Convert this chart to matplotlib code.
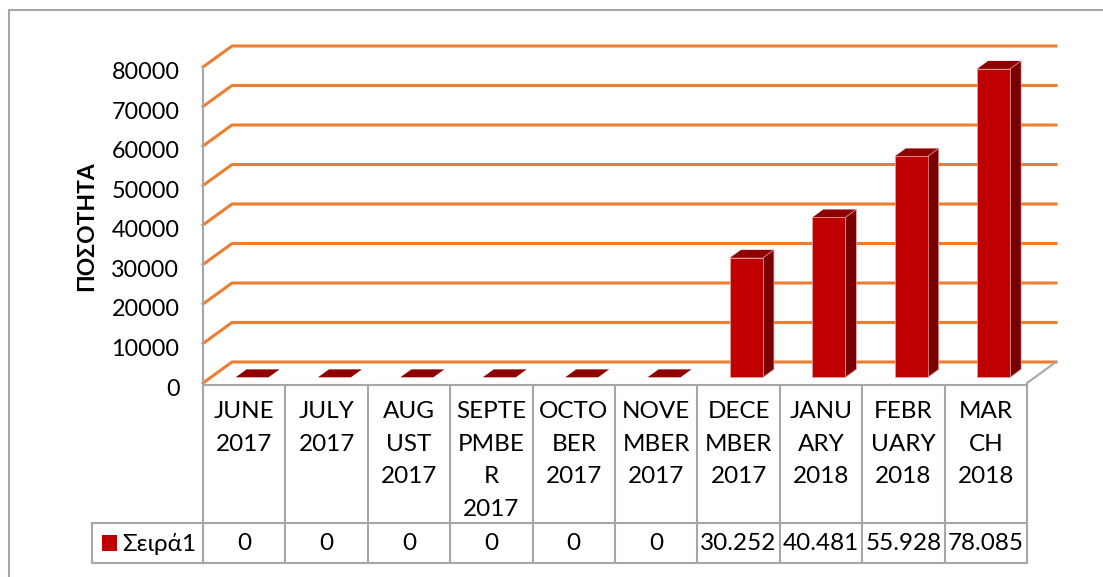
import numpy as np
import matplotlib.pyplot as plt
from matplotlib.patches import Polygon, Rectangle
from matplotlib.lines import Line2D
from matplotlib.transforms import blended_transform_factory, ScaledTranslation

plt.rcParams['font.family'] = ['Lato', 'DejaVu Sans']

months = ['JUNE\n2017', 'JULY\n2017', 'AUG\nUST\n2017', 'SEPTE\nPMBE\nR\n2017',
          'OCTO\nBER\n2017', 'NOVE\nMBER\n2017', 'DECE\nMBER\n2017',
          'JANU\nARY\n2018', 'FEBR\nUARY\n2018', 'MAR\nCH\n2018']
values = [0, 0, 0, 0, 0, 0, 30252, 40481, 55928, 78085]
yticks = np.arange(0, 80001, 10000)
series_name = 'Σειρά1'
ylabel = 'ΠΟΣΟΤΗΤΑ'

W, H = 1103, 577
ORANGE = '#ED7D31'
GRAY = '#A6A6A6'
RED_FRONT = '#C00000'
RED_SIDE = '#7A0000'
RED_TOP = '#900000'


def fy(px):
    # pixel row from top -> figure fraction
    return (H - px) / H


fig = plt.figure(figsize=(W / 100, H / 100), dpi=100)
ax = fig.add_axes([203 / W, fy(383), 824 / W, 316 / H])
n = len(values)
ax.set_xlim(-0.5, n - 0.5)
ax.set_ylim(0, 80000)

# depth of the 3d box in data units
DX = 29 / 82.4
DY = 21 / 316 * 80000

# gridlines on the side and back walls
for v in yticks:
    ax.add_line(Line2D([-0.5, -0.5 + DX, n - 0.5 + DX], [v, v + DY, v + DY],
                       color=ORANGE, lw=2.2, clip_on=False, zorder=1))
# floor right edge
ax.add_line(Line2D([n - 0.5, n - 0.5 + DX], [0, DY], color=GRAY, lw=1.5,
                   clip_on=False, zorder=1))

# bars
bw = 0.40
f0, f1 = 0.27, 0.65
for i, v in enumerate(values):
    x0 = i - bw / 2 + f0 * DX
    x1 = i + bw / 2 + f0 * DX
    y0 = f0 * DY
    ddx = (f1 - f0) * DX
    ddy = (f1 - f0) * DY
    top = [(x0, y0 + v), (x1, y0 + v), (x1 + ddx, y0 + v + ddy), (x0 + ddx, y0 + v + ddy)]
    ax.add_patch(Polygon(top, closed=True, fc=RED_TOP, ec='none', clip_on=False, zorder=3))
    if v > 0:
        ax.add_patch(Rectangle((x0, y0), x1 - x0, v, fc=RED_FRONT, ec='#E8A0A0',
                               lw=0.5, clip_on=False, zorder=4))
        side = [(x1, y0), (x1 + ddx, y0 + ddy), (x1 + ddx, y0 + v + ddy), (x1, y0 + v)]
        ax.add_patch(Polygon(side, closed=True, fc=RED_SIDE, ec='#E8A0A0', lw=0.5,
                             clip_on=False, zorder=3))

# axis
for s in ['top', 'right', 'bottom']:
    ax.spines[s].set_visible(False)
ax.spines['left'].set_color(GRAY)
ax.spines['left'].set_linewidth(1.5)
ax.set_yticks(yticks)
ax.set_yticklabels([str(t) for t in yticks], fontsize=16.8)
ax.tick_params(axis='y', length=0, pad=17)
shift = ScaledTranslation(0, -4 / 100, fig.dpi_scale_trans)
for lab in ax.get_yticklabels():
    lab.set_transform(lab.get_transform() + shift)
ax.set_xticks([])
ax.patch.set_visible(False)
fig.text(87 / W, fy(226), ylabel, rotation=90, fontsize=16.5, fontweight='bold',
         ha='center', va='center')

# data table under the plot
tr = blended_transform_factory(ax.transData, fig.transFigure)
row_top, row_mid, row_bot = fy(385), fy(523), fy(563)
cell_kw = dict(color=GRAY, lw=1.5, clip_on=False, transform=tr)
ax.add_line(Line2D([-0.5, n - 0.5], [row_top, row_top], **cell_kw))
ax.add_line(Line2D([-0.5, n - 0.5], [row_mid, row_mid], **cell_kw))
ax.add_line(Line2D([-0.5, n - 0.5], [row_bot, row_bot], **cell_kw))
for k in range(n + 1):
    ax.add_line(Line2D([k - 0.5, k - 0.5], [row_top, row_bot], **cell_kw))
for i, (m, v) in enumerate(zip(months, values)):
    ax.text(i, fy(401), m, transform=tr, ha='center', va='top', fontsize=17.5,
            linespacing=1.68)
    ax.text(i, fy(544), '{:,}'.format(v).replace(',', '.'), transform=tr,
            ha='center', va='center', fontsize=17.5)

# legend cell
fig.add_artist(Line2D([92 / W, 203 / W, 203 / W, 92 / W, 92 / W],
                      [row_mid, row_mid, row_bot, row_bot, row_mid], color=GRAY, lw=1.5))
fig.add_artist(Rectangle((102 / W, fy(551)), 15 / W, 16 / H, fc=RED_FRONT, ec='none'))
fig.text(122 / W, fy(544), series_name, fontsize=17.5, va='center', ha='left')

# chart border
fig.add_artist(Line2D([9 / W, 9 / W, 1.0], [0.0, fy(10), fy(10)], color=GRAY, lw=1.5))

fig.savefig('out.png', dpi=100)
